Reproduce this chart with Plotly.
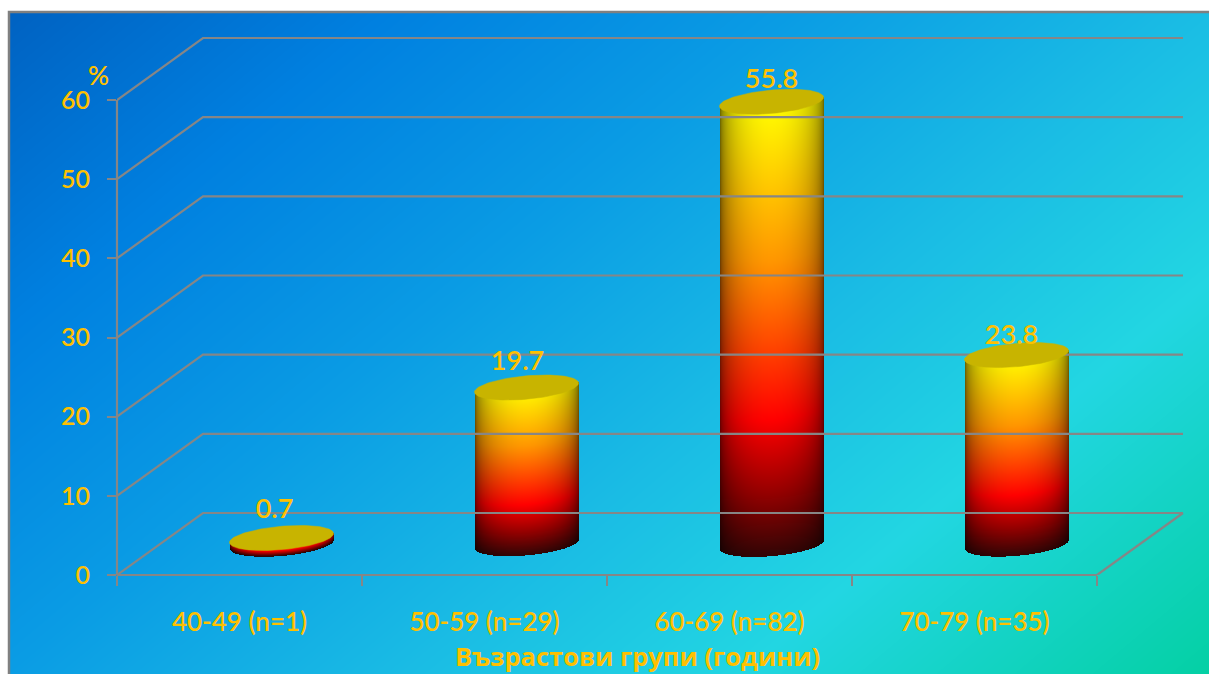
import base64
import struct
import zlib

import numpy as np
import plotly.graph_objects as go

# Survey data
categories = ["40-49 (n=1)", "50-59 (n=29)", "60-69 (n=82)", "70-79 (n=35)"]
percentages = [0.7, 19.7, 55.8, 23.8]
y_ticks = [0, 10, 20, 30, 40, 50, 60]
x_title = "Възрастови групи (години)"
y_title = "%"

# Canvas and plot geometry, in pixels
WIDTH, HEIGHT = 1209, 674
LEFT, RIGHT, TOP, BOTTOM = 117, 1190, 30, 575
PX_PER_CAT = 245.0
PX_PER_UNIT = 475.0 / 60.0
DEPTH_X_PX, DEPTH_Y_PX = 86.0, 62.0

depth_x = DEPTH_X_PX / PX_PER_CAT
depth_y = DEPTH_Y_PX / PX_PER_UNIT
x_min = -0.5
x_max = x_min + (RIGHT - LEFT) / PX_PER_CAT
y_max = (BOTTOM - TOP) / PX_PER_UNIT

# Cylinder proportions
RADIUS_PX = 52.0
CAP_B_PX = 11.7
CAP_TILT_PX = 4.5
NUDGE_X_PX = -1.0
NUDGE_Y_PX = 0.5

GRID = "#868686"
TEXT = "#FFC000"
CAP = "#C8B400"
FONT = "Lato, Carlito, Calibri, 'Open Sans', sans-serif"
TITLE_FONT = "'Open Sans', Lato, sans-serif"


def page_x(px):
    return (px - LEFT) / (RIGHT - LEFT)


def page_y(px):
    return (BOTTOM - px) / (BOTTOM - TOP)


def gradient_png():
    """Diagonal page background encoded as a PNG data URI."""
    w, h = WIDTH - 10, HEIGHT - 13
    xs, ys = np.meshgrid(np.arange(w) + 10, np.arange(h) + 13)
    t = (0.84 * xs + ys) / 1689.0
    stops = [0, 0.2, 0.4, 0.6, 0.767, 1.0]
    cols = np.array([(0, 96, 192), (0, 128, 224), (10, 156, 228),
                     (26, 188, 228), (34, 214, 226), (4, 208, 164)], float)
    rgb = np.stack([np.interp(t, stops, cols[:, i]) for i in range(3)], axis=-1)
    rgb = rgb.round().astype(np.uint8)
    raw = b"".join(b"\x00" + row.tobytes() for row in rgb)

    def chunk(tag, data):
        crc = zlib.crc32(tag + data) & 0xFFFFFFFF
        return struct.pack(">I", len(data)) + tag + data + struct.pack(">I", crc)

    png = (b"\x89PNG\r\n\x1a\n"
           + chunk(b"IHDR", struct.pack(">IIBBBBB", w, h, 8, 2, 0, 0, 0))
           + chunk(b"IDAT", zlib.compress(raw, 6))
           + chunk(b"IEND", b""))
    return "data:image/png;base64," + base64.b64encode(png).decode()


def cylinder_rgba(body_px):
    """Side of a cylinder with its body_px tall axis, shaded top to bottom and around."""
    cols = int(2 * RADIUS_PX) + 2
    rows = int(body_px + 2 * CAP_B_PX + 2 * CAP_TILT_PX) + 4
    top_row = CAP_B_PX + CAP_TILT_PX + 1
    u = (np.arange(cols) + 0.5 - cols / 2) / RADIUS_PX
    rr = np.arange(rows)[:, None] + 0.5
    uu = np.clip(u, -1, 1)[None, :]
    arc = CAP_B_PX * np.sqrt(1 - uu ** 2)
    tilt = -CAP_TILT_PX * uu
    bottom = top_row + body_px + tilt + arc
    upper = top_row + tilt
    v = np.clip((bottom - rr) / (body_px + CAP_B_PX), 0, 1)
    stops = [0, 0.14, 0.3, 0.65, 1.0]
    ramp = np.array([(50, 5, 5), (150, 0, 0), (255, 0, 0), (255, 150, 0), (255, 255, 0)], float)
    shade = 0.3 + 0.7 * (1 - uu ** 2) ** 0.4
    rgb = np.stack([np.interp(v, stops, ramp[:, i]) * shade for i in range(3)], axis=-1)
    a_y = np.clip(bottom - rr + 0.5, 0, 1) * np.clip(rr - upper + 0.5, 0, 1)
    a_x = np.clip((1 - np.abs(u)) * RADIUS_PX + 0.5, 0, 1)[None, :]
    alpha = (a_y * a_x * 255)[..., None]
    rgba = np.concatenate([rgb, alpha], axis=-1).round().astype(np.uint8)
    # Rows run upward along the y axis, so the bottom of the cylinder comes first
    return rgba[::-1], top_row


fig = go.Figure()

# Walls and far floor edge of the box
wall_right = x_min + (1183 - LEFT) / PX_PER_CAT
gx, gy = [], []
for v in y_ticks:
    gx += [x_min, x_min + depth_x, wall_right, None]
    gy += [v, v + depth_y, v + depth_y, None]
gx += [x_min + 4, x_min + 4 + depth_x]
gy += [0, depth_y]
fig.add_trace(go.Scatter(x=gx, y=gy, mode="lines", cliponaxis=False, showlegend=False,
                         hoverinfo="skip", line=dict(color=GRID, width=2.2)))

# One cylinder per age group
base_y = depth_y / 2 + NUDGE_Y_PX / PX_PER_UNIT
for i, value in enumerate(percentages):
    cx = i + depth_x / 2 + NUDGE_X_PX / PX_PER_CAT
    top_y = base_y + value
    body_px = value * PX_PER_UNIT
    img, top_row = cylinder_rgba(body_px)
    fig.add_trace(go.Image(
        z=img, colormodel="rgba",
        x0=cx - img.shape[1] / 2 / PX_PER_CAT + 0.5 / PX_PER_CAT,
        dx=1 / PX_PER_CAT,
        y0=top_y + (top_row - 0.5 - (img.shape[0] - 1)) / PX_PER_UNIT,
        dy=1 / PX_PER_UNIT,
        hoverinfo="skip",
    ))
    th = np.linspace(0, 2 * np.pi, 121)
    ex = cx + RADIUS_PX * np.cos(th) / PX_PER_CAT
    ey = top_y + (CAP_B_PX * np.sin(th) + CAP_TILT_PX * np.cos(th)) / PX_PER_UNIT
    fig.add_trace(go.Scatter(x=ex, y=ey, mode="lines", fill="toself", fillcolor=CAP,
                             line=dict(color=CAP, width=0.5), showlegend=False,
                             hoverinfo="skip"))

# Value labels above the cylinders
label_dx_px = [-7, -9, 0, -5]
label_dy_px = [27, 24, 21, 18]
fig.add_trace(go.Scatter(
    x=[i + depth_x / 2 + (NUDGE_X_PX + d) / PX_PER_CAT for i, d in enumerate(label_dx_px)],
    y=[base_y + v + d / PX_PER_UNIT for v, d in zip(percentages, label_dy_px)],
    mode="text", text=[str(v) for v in percentages], textposition="middle center",
    textfont=dict(family=FONT, size=27, weight=600, color=TEXT), showlegend=False, hoverinfo="skip",
))

fig.update_layout(
    width=WIDTH, height=HEIGHT, autosize=False,
    margin=dict(l=LEFT, r=WIDTH - RIGHT, t=TOP, b=HEIGHT - BOTTOM, pad=0),
    paper_bgcolor="white", plot_bgcolor="rgba(0,0,0,0)", showlegend=False,
    font=dict(family=FONT, color=TEXT),
    xaxis=dict(range=[x_min, x_max], tickmode="array", tickvals=list(range(len(categories))),
               ticktext=categories, ticks="", showgrid=False, zeroline=False, showline=False,
               tickfont=dict(size=26, weight=600, color=TEXT), ticklabelstandoff=29,
               minor=dict(tickmode="array", tickvals=[x_min + k for k in range(5)],
                          ticks="outside", ticklen=10, tickwidth=2, tickcolor=GRID, showgrid=False)),
    yaxis=dict(range=[0, y_max], tickmode="array", tickvals=y_ticks, ticks="outside",
               ticklen=9, tickwidth=2, tickcolor=GRID, showgrid=False, zeroline=False,
               showline=False, scaleanchor=False, tickfont=dict(size=25, weight=600, color=TEXT),
               ticklabelstandoff=12),
    images=[dict(source=gradient_png(), xref="paper", yref="paper",
                 x=page_x(10), y=page_y(13),
                 sizex=(WIDTH - 10) / (RIGHT - LEFT), sizey=(HEIGHT - 13) / (BOTTOM - TOP),
                 xanchor="left", yanchor="top", sizing="stretch", layer="below")],
    shapes=[
        dict(type="rect", xref="paper", yref="paper",
             x0=page_x(9), x1=page_x(WIDTH + 10), y0=page_y(HEIGHT + 10), y1=page_y(12),
             line=dict(color="#808080", width=2.5), layer="below"),
        # Value axis upright and front floor edge sit on the plot border
        dict(type="line", xref="paper", yref="y", x0=0, x1=0, y0=0, y1=y_ticks[-1],
             line=dict(color=GRID, width=2.2)),
        dict(type="line", xref="x", yref="paper", x0=x_min, x1=x_min + 4, y0=0, y1=0,
             line=dict(color=GRID, width=2.2)),
    ],
    annotations=[
        dict(text=y_title, x=page_x(98), y=page_y(75), xref="paper", yref="paper",
             xanchor="center", yanchor="middle", showarrow=False,
             font=dict(size=26, weight=600, color=TEXT)),
        dict(text=x_title, x=page_x(637), y=page_y(656), xref="paper", yref="paper",
             xanchor="center", yanchor="middle", showarrow=False,
             font=dict(family=TITLE_FONT, size=25.5, weight=700, color=TEXT)),
    ],
)

fig.write_html("out.html")
